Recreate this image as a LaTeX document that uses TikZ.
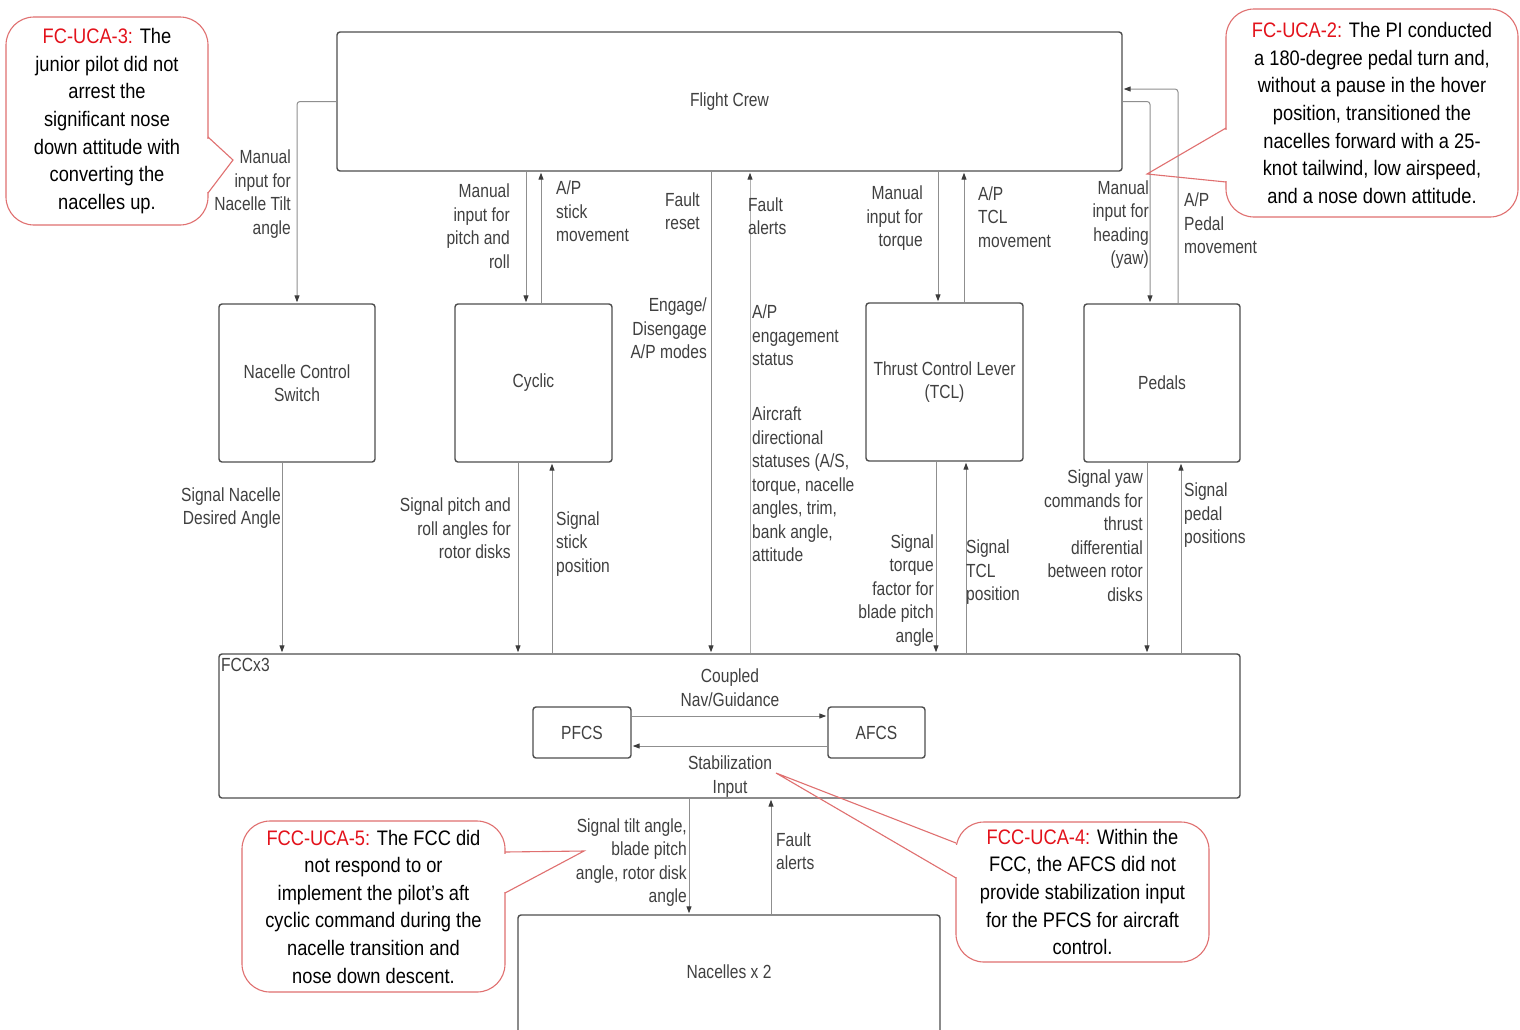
\documentclass[tikz,border=0pt]{standalone}
\usepackage{fontspec}
\setmainfont{Liberation Sans}
\newfontfamily\lblfont[FakeStretch=0.82]{Liberation Sans}
\newfontfamily\calfont[FakeStretch=0.87]{Liberation Sans}
\usetikzlibrary{arrows.meta}
\definecolor{boxline}{HTML}{4D4D4D}
\definecolor{connline}{HTML}{8F8F8F}
\definecolor{arrowc}{HTML}{3C3C3C}
\definecolor{txtgray}{HTML}{404040}
\definecolor{calred}{HTML}{E07070}
\definecolor{ucared}{HTML}{E3121B}
\begin{document}
\begin{tikzpicture}[x=1pt,y=-1pt,
  blk/.style={draw=boxline, line width=1.4pt, rounded corners=3pt, fill=white,
    inner sep=0pt, align=center, text=txtgray,
    font=\lblfont\fontsize{19}{23.5}\selectfont},
  lbl/.style={inner sep=0pt, text=txtgray, font=\lblfont\fontsize{19}{23.5}\selectfont},
  lblr/.style={lbl, align=right, anchor=east},
  lbll/.style={lbl, align=left, anchor=west},
  conn/.style={draw=connline, line width=1pt, rounded corners=3pt, shorten >=1pt,
    -{Triangle[length=7pt,width=5pt,color=arrowc]}},
  callout/.style={draw=calred, line width=1.1pt, rounded corners=28pt, fill=white,
    inner sep=0pt, align=center, text=black,
    font=\calfont\fontsize{21}{27.6}\selectfont},
  tail/.style={draw=calred, line width=1.1pt},
  gap/.style={draw=white, line width=3pt}
]
\useasboundingbox (0,0) rectangle (1520,1029);
\clip (0,0) rectangle (1520,1029);
\fill[white] (0,0) rectangle (1520,1029);

% ---------- blocks ----------
\node[blk, minimum width=785pt, minimum height=139pt] (fc) at (729.5,101.5) {Flight Crew};
\node[blk, minimum width=156pt, minimum height=158pt] (ncs) at (297,383) {Nacelle Control\\Switch};
\node[blk, minimum width=157pt, minimum height=158pt] (cyc) at (533.5,383) {Cyclic};
\node[blk, minimum width=157pt, minimum height=158pt] (tcl) at (944.5,382) {Thrust Control Lever\\(TCL)};
\node[blk, minimum width=156pt, minimum height=158pt] (ped) at (1162,383) {Pedals};
\node[blk, minimum width=1021pt, minimum height=144pt] (fcc) at (729.5,726) {};
\node[lbl, anchor=west] (fcclbl) at (221,665) {FCCx3};
\node[blk, minimum width=98pt, minimum height=51pt] (pfcs) at (582,732.5) {PFCS};
\node[blk, minimum width=97pt, minimum height=51pt] (afcs) at (876.5,732.5) {AFCS};
\node[blk, minimum width=422pt, minimum height=130pt] (nac) at (729,980) {};
\node[lbl] (naclbl) at ([yshift=-57pt]nac.north) {Nacelles x 2};

% ---------- helper x positions ----------
\coordinate (xfr) at (711,400);
\coordinate (xfa) at (750,400);

% ---------- Flight Crew <-> controls ----------
\draw[conn] (fc.west) -| (ncs.north);
\draw[conn] ([xshift=-7.5pt]cyc.north |- fc.south) -- ([xshift=-7.5pt]cyc.north);
\draw[conn] ([xshift=7.5pt]cyc.north) -- ([xshift=7.5pt]cyc.north |- fc.south);
\draw[conn] (fc.south -| xfr) -- (fcc.north -| xfr);
\draw[conn, draw=connline!70] (fcc.north -| xfa) -- (fc.south -| xfa);
\draw[conn] ([xshift=-6.5pt]tcl.north |- fc.south) -- ([xshift=-6.5pt]tcl.north);
\draw[conn] ([xshift=19.5pt]tcl.north) -- ([xshift=19.5pt]tcl.north |- fc.south);
\draw[conn] (fc.east) -| ([xshift=-12pt]ped.north);
\draw[conn] ([xshift=16pt]ped.north) |- ([yshift=12.5pt]fc.east);

% ---------- controls <-> FCC ----------
\draw[conn] ([xshift=-15pt]ncs.south) -- ([xshift=-15pt]ncs.south |- fcc.north);
\draw[conn] ([xshift=-15.5pt]cyc.south) -- ([xshift=-15.5pt]cyc.south |- fcc.north);
\draw[conn] ([xshift=18.5pt]cyc.south |- fcc.north) -- ([xshift=18.5pt]cyc.south);
\draw[conn] ([xshift=-8.5pt]tcl.south) -- ([xshift=-8.5pt]tcl.south |- fcc.north);
\draw[conn] ([xshift=21.5pt]tcl.south |- fcc.north) -- ([xshift=21.5pt]tcl.south);
\draw[conn] ([xshift=-15pt]ped.south) -- ([xshift=-15pt]ped.south |- fcc.north);
\draw[conn] ([xshift=19pt]ped.south |- fcc.north) -- ([xshift=19pt]ped.south);

% ---------- inside FCC ----------
\draw[conn] ([yshift=16.5pt]pfcs.east) -- ([yshift=16.5pt]afcs.west);
\draw[conn] ([yshift=-13.5pt]afcs.west) -- ([yshift=-13.5pt]pfcs.east);

% ---------- FCC <-> Nacelles ----------
\draw[conn] ([xshift=-40pt]nac.north |- fcc.south) -- ([xshift=-40pt]nac.north);
\draw[conn] ([xshift=42pt]nac.north) -- ([xshift=42pt]nac.north |- fcc.south);

% ---------- connector labels ----------
\node[lblr] (l1) at (291,194) {Manual\\input for\\Nacelle Tilt\\angle};
\node[lblr] (l2) at (510,226) {Manual\\input for\\pitch and\\roll};
\node[lbll] (l3) at (556,211.5) {A/P\\stick\\movement};
\node[lblr] (l4) at (700,211) {Fault\\reset};
\node[lblr] (l5) at (707,328.5) {Engage/\\Disengage\\A/P modes};
\node[lbll] (l6) at (748,216) {Fault\\alerts};
\node[lbll] (l7) at (752,335.5) {A/P\\engagement\\status};
\node[lbll] (l8) at (752,484.5) {Aircraft\\directional\\statuses (A/S,\\torque, nacelle\\angles, trim,\\bank angle,\\attitude};
\node[lblr] (l9) at (923,218.5) {Manual\\input for\\torque};
\node[lbll] (l10) at (978,217) {A/P\\TCL\\movement};
\node[lblr] (l11) at (1149,224.5) {Manual\\input for\\heading\\(yaw)};
\node[lbll] (l12) at (1184,223.5) {A/P\\Pedal\\movement};
\node[lblr] (l13) at (281,508) {Signal Nacelle\\Desired Angle};
\node[lblr] (l14) at (511,528.5) {Signal pitch and\\roll angles for\\rotor disks};
\node[lbll] (l15) at (556,544) {Signal\\stick\\position};
\node[lblr] (l16) at (934,590.5) {Signal\\torque\\factor for\\blade pitch\\angle};
\node[lbll] (l17) at (966,572.5) {Signal\\TCL\\position};
\node[lblr] (l18) at (1143,535.5) {Signal yaw\\commands for\\thrust\\differential\\between rotor\\disks};
\node[lbll] (l19) at (1184,515.5) {Signal\\pedal\\positions};
\node[lblr] (l20) at (687,862.5) {Signal tilt angle,\\blade pitch\\angle, rotor disk\\angle};
\node[lbll] (l21) at (776,851) {Fault\\alerts};
\node[lbl, align=center] (l22) at (730,687.5) {Coupled\\Nav/Guidance};
\node[lbl, align=center] (l23) at (730,776.5) {Stabilization\\Input};

% ---------- callouts ----------
\node[callout, minimum width=202pt, minimum height=208pt] (uca3) at (107,121)
  {{\color{ucared}FC-UCA-3:} The\\junior pilot did not\\arrest the\\significant nose\\down attitude with\\converting the\\nacelles up.};
\draw[gap] (208,138.5) -- (208,191.5);
\draw[tail] (208,137) -- (233,160) -- (208,193);

\node[callout, minimum width=292pt, minimum height=208pt] (uca2) at (1372,113)
  {{\color{ucared}FC-UCA-2:} The PI conducted\\a 180-degree pedal turn and,\\without a pause in the hover\\position, transitioned the\\nacelles forward with a 25-\\knot tailwind, low airspeed,\\and a nose down attitude.};
\draw[gap] (1226,129.5) -- (1226,180.5);
\draw[tail] (1226,128) -- (1147,174) -- (1226,182);

\node[callout, minimum width=263pt, minimum height=171pt] (uca5) at (373.5,906.5)
  {{\color{ucared}FCC-UCA-5:} The FCC did\\not respond to or\\implement the pilot’s aft\\cyclic command during the\\nacelle transition and\\nose down descent.};
\draw[gap] (505,853.5) -- (505,891.5);
\draw[tail] (505,852) -- (584,851) -- (505,893);

\node[callout, minimum width=253pt, minimum height=140pt] (uca4) at (1082.5,892)
  {{\color{ucared}FCC-UCA-4:} Within the\\FCC, the AFCS did not\\provide stabilization input\\for the PFCS for aircraft\\control.};
\draw[gap] (956,844.5) -- (956,876.5);
\draw[tail] (956,843) -- (776,773) -- (956,878);
\end{tikzpicture}
\end{document}
